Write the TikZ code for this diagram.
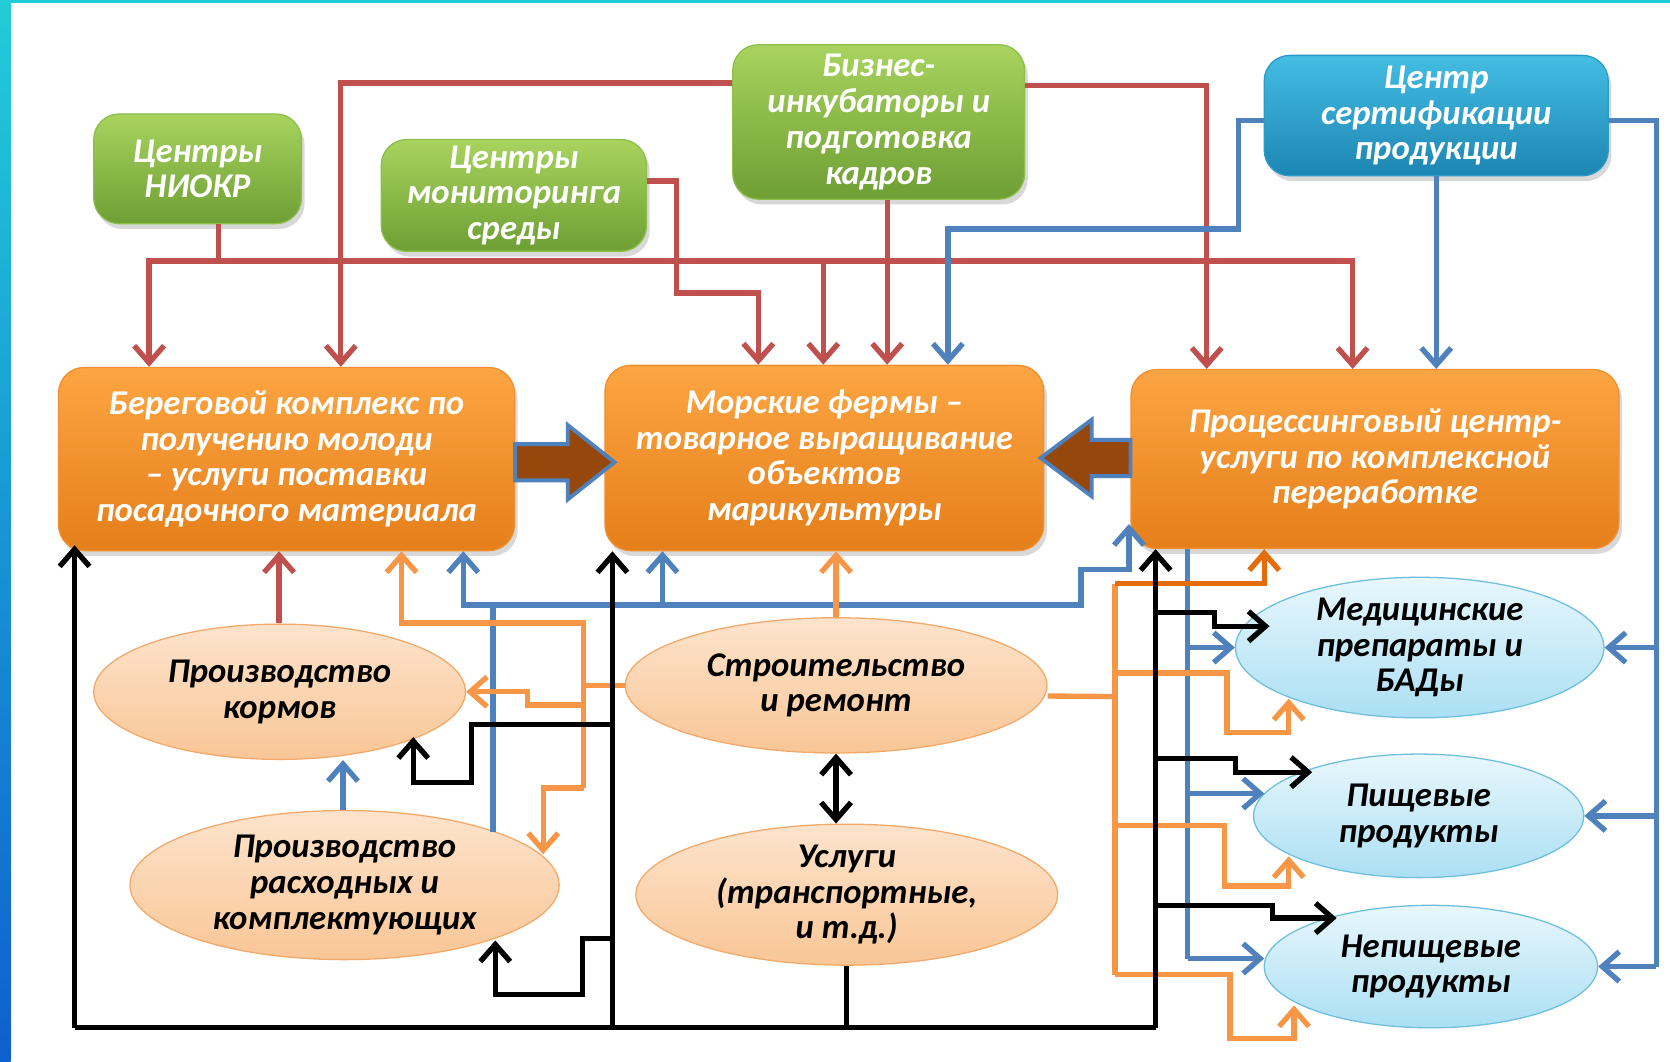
\documentclass[tikz,border=0pt]{standalone}
\usepackage{fontspec}
\setmainfont{Carlito}
\usetikzlibrary{arrows.meta,shadows,shapes.geometric,calc}
\definecolor{cred}{HTML}{C0504D}
\definecolor{cblue}{HTML}{4F81BD}
\definecolor{corange}{HTML}{F79646}
\definecolor{cdorange}{HTML}{E46C0A}
\definecolor{gtop}{HTML}{A8D35E}
\definecolor{gbot}{HTML}{6E9F34}
\definecolor{gline}{HTML}{8CBF4A}
\definecolor{btop}{HTML}{44BDE3}
\definecolor{bbot}{HTML}{1C86B2}
\definecolor{bline}{HTML}{2A9BC8}
\definecolor{otop}{HTML}{FCA542}
\definecolor{obot}{HTML}{E57F1B}
\definecolor{oline}{HTML}{F09030}
\definecolor{ptop}{HTML}{FDE3CC}
\definecolor{pbot}{HTML}{F9C696}
\definecolor{pline}{HTML}{F3A96A}
\definecolor{ltop}{HTML}{E8F7FD}
\definecolor{lbot}{HTML}{ABDFF3}
\definecolor{lline}{HTML}{6EBFDD}
\definecolor{arrfill}{HTML}{96470C}
\definecolor{stripA}{HTML}{22CCD8}
\definecolor{stripB}{HTML}{0E5FCF}
\begin{document}
\begin{tikzpicture}[x=0.5pt,y=-0.5pt,
  txt/.style={font=\bfseries\itshape\fontsize{16.3}{16.8}\selectfont, align=center, inner sep=0pt},
  boxbase/.style={txt, rectangle, rounded corners=12pt, text=white, line width=0.6pt,
     drop shadow={opacity=0.3, shadow xshift=1.5pt, shadow yshift=-2.5pt}},
  gbox/.style={boxbase, draw=gline, top color=gtop, bottom color=gbot},
  cbox/.style={boxbase, draw=bline, top color=btop, bottom color=bbot},
  obox/.style={boxbase, draw=oline, top color=otop, bottom color=obot},
  pell/.style={txt, ellipse, draw=pline, line width=0.6pt, top color=ptop, bottom color=pbot, text=black},
  lell/.style={txt, ellipse, draw=lline, line width=0.6pt, top color=ltop, bottom color=lbot, text=black},
  conn/.style={line width=2.5pt, -{Straight Barb[length=8pt,width=14pt]}},
  redl/.style={conn, draw=cred},
  bluel/.style={conn, draw=cblue},
  orangel/.style={conn, draw=corange},
  blackl/.style={conn, draw=black},
  blockarr/.style={draw=cblue, line width=1.8pt, fill=arrfill, line join=miter},
]
\useasboundingbox (0,0) rectangle (1568,997);
\fill[white] (0,0) rectangle (1568,997);
\shade[top color=stripA, bottom color=stripB] (0,0) rectangle (10,997);
\fill[stripA] (0,0) rectangle (1568,3);

% top boxes
\node[gbox, minimum width=97.5pt, minimum height=51.5pt] (niokr) at (185.5,158.5) {Центры\\НИОКР};
\node[gbox, minimum width=124.5pt, minimum height=52.5pt] (monit) at (482.5,183.5) {Центры\\мониторинга\\среды};
\node[gbox, minimum width=137pt, minimum height=72.5pt] (biz) at (825,114.5) {Бизнес-\\инкубаторы и\\подготовка\\кадров};
\node[cbox, minimum width=161.5pt, minimum height=56.5pt] (cert) at (1348.5,108.5) {Центр\\сертификации\\продукции};

% main boxes
\node[obox, minimum width=214pt, minimum height=86pt] (bereg) at (269,431) {Береговой комплекс по\\получению молоди\\– услуги поставки\\посадочного материала};
\node[obox, minimum width=206pt, minimum height=87pt] (farm) at (774,430) {Морские фермы –\\товарное выращивание\\объектов\\марикультуры};
\node[obox, minimum width=229pt, minimum height=84pt] (proc) at (1291,431) {Процессинговый центр-\\услуги по комплексной\\переработке};

% ellipses
\node[pell, minimum width=174.5pt, minimum height=63.5pt] (korm) at (262.5,649.5) {Производство\\кормов};
\node[pell, minimum width=198pt, minimum height=63.5pt] (stroy) at (785,643.5) {Строительство\\и ремонт};
\node[pell, minimum width=201.5pt, minimum height=70pt] (rash) at (323.5,831) {Производство\\расходных и\\комплектующих};
\node[pell, minimum width=198pt, minimum height=65pt] (uslugi) at (795,840) {Услуги\\(транспортные,\\и т.д.)};
\node[lell, minimum width=173pt, minimum height=62pt] (med) at (1333,608) {Медицинские\\препараты и\\БАДы};
\node[lell, minimum width=155pt, minimum height=58pt] (pish) at (1332,766) {Пищевые\\продукты};
\node[lell, minimum width=156.5pt, minimum height=57.5pt] (nepish) at (1343.5,907.5) {Непищевые\\продукты};

% red connectors
\draw[redl] (205,0 |- niokr.south) -- (205,245) -- (140,245) -- (140,0 |- bereg.north);
\draw[redl] (140,245) -- (1270,245) -- (1270,0 |- proc.north);
\draw[redl] (773,245) -- (773,0 |- farm.north);
\draw[redl] (biz.west |- 0,78) -- (320,78) -- (320,0 |- bereg.north);
\draw[redl] (biz.east |- 0,80) -- (1133,80) -- (1133,0 |- proc.north);
\draw[redl] (833,0 |- biz.south) -- (833,0 |- farm.north);
\draw[redl] (monit.east |- 0,170) -- (635,170) -- (635,275) -- (712,275) -- (712,0 |- farm.north);
\draw[redl] (262,0 |- korm.north) -- (262,0 |- bereg.south);

% blue connectors
\draw[bluel] (cert.west |- 0,113) -- (1163,113) -- (1163,215) -- (890,215) -- (890,0 |- farm.north);
\draw[bluel] (cert.south) -- (cert.south |- proc.north);
\draw[bluel,-] (cert.east |- 0,113) -- (1555,113) -- (1555,0 |- nepish.east);
\draw[bluel] (1555,0 |- med.east) -- (med.east);
\draw[bluel] (1555,0 |- pish.east) -- (pish.east);
\draw[bluel] (1555,0 |- nepish.east) -- (nepish.east);
\draw[bluel] (322,0 |- rash.north) -- (322,0 |- korm.south);
\draw[bluel] (463,781) -- (463,568) -- (1015,568) -- (1015,535) -- (1060,535) -- (1060,492);
\draw[bluel] (463,568) -- (435,568) -- (435,0 |- bereg.south);
\draw[bluel] (622,568) -- (622,0 |- farm.south);
\draw[bluel,-] (1115,0 |- proc.south) -- (1115,900);
\draw[bluel] (1115,0 |- med.west) -- (med.west);
\draw[bluel] (1115,745) -- (1187,745);
\draw[bluel] (1115,900) -- (1187,900);

% orange connectors
\draw[orangel] (stroy.north) -- (stroy.north |- farm.south);
\draw[orangel,-] (stroy.west) -- (548,0 |- stroy.west);
\draw[orangel] (548,740) -- (548,585) -- (377,585) -- (377,0 |- bereg.south);
\draw[orangel] (548,740) -- (510,740) -- (510,802);
\draw[orangel] (548,662) -- (495,662) -- (495,0 |- korm.east) -- (korm.east);
\draw[orangel,-] ([yshift=-5pt]stroy.east) -- (1047,654);
\draw[orangel,-] (1047,548) -- (1047,915);
\draw[orangel,draw=cdorange] (1047,548) -- (1187,548) -- (1187,0 |- proc.south);
\draw[orangel] (1047,632) -- (1152,632) -- (1152,688) -- (1210,688) -- (1210,656);
\draw[orangel] (1047,775) -- (1150,775) -- (1150,832) -- (1210,832) -- (1210,804);
\draw[orangel] (1047,915) -- (1155,915) -- (1155,975) -- (1215,975) -- (1215,944);

% black connectors
\draw[blackl,-] (70,965) -- (1085,965);
\draw[blackl] (70,965) -- (70,512);
\draw[blackl] (575,965) -- (575,0 |- farm.south);
\draw[blackl] (1085,965) -- (1085,0 |- proc.south);
\draw[blackl,-] (uslugi.south) -- (uslugi.south |- 0,965);
\draw[blackl] (575,680) -- (443,680) -- (443,735) -- (388,735) -- (388,692);
\draw[blackl] (575,881) -- (547,881) -- (547,934) -- (465,934) -- (465,883);
\draw[blackl] (1085,575) -- (1140,575) -- (1140,588) -- (1192,588);
\draw[blackl] (1085,712) -- (1160,712) -- (1160,725) -- (1232,725);
\draw[blackl] (1085,850) -- (1195,850) -- (1195,862) -- (1255,862);
\draw[blackl,{Straight Barb[length=8pt,width=14pt]}-{Straight Barb[length=8pt,width=14pt]}] (785,0 |- stroy.south) -- (785,0 |- uslugi.north);

% block arrows
\draw[blockarr] (bereg.east |- 0,417) -- (533,417) -- (533,399) -- (577,434) -- (533,469) -- (533,451) -- (bereg.east |- 0,451) -- cycle;
\draw[blockarr] (proc.west |- 0,413) -- (1025,413) -- (1025,394) -- (977,430) -- (1025,466) -- (1025,447) -- (proc.west |- 0,447) -- cycle;
\end{tikzpicture}
\end{document}
